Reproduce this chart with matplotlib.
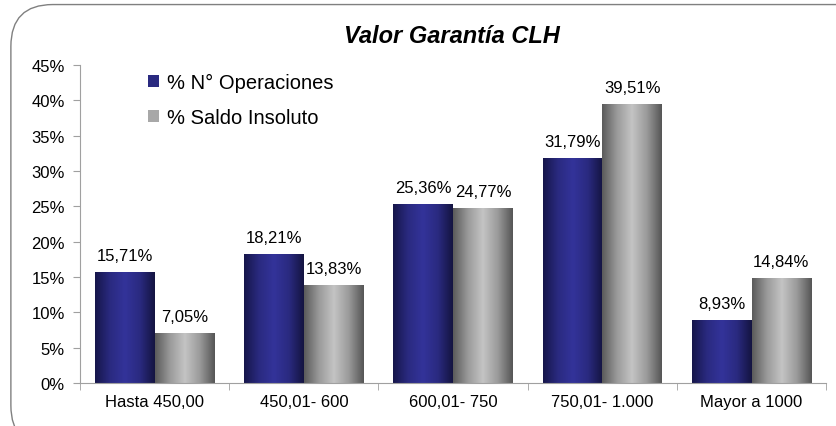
import matplotlib
matplotlib.use("Agg")
import matplotlib.pyplot as plt
from matplotlib.patches import FancyBboxPatch, Patch
from matplotlib.colors import LinearSegmentedColormap
import numpy as np

plt.rcParams['font.family'] = ['Liberation Sans', 'DejaVu Sans']

# data
categorias = ["Hasta 450,00", "450,01- 600", "600,01- 750", "750,01- 1.000", "Mayor a 1000"]
operaciones = [15.71, 18.21, 25.36, 31.79, 8.93]
saldo = [7.05, 13.83, 24.77, 39.51, 14.84]
series = ["% N° Operaciones", "% Saldo Insoluto"]
yticks = [0, 5, 10, 15, 20, 25, 30, 35, 40, 45]

blue_cmap = LinearSegmentedColormap.from_list(
    "b", ["#16164a", "#2a2a80", "#33339a", "#2a2a80", "#141440"])
gray_cmap = LinearSegmentedColormap.from_list(
    "g", ["#5a5a5a", "#9a9a9a", "#c4c4c4", "#9a9a9a", "#555555"])

fig = plt.figure(figsize=(8.37, 4.27), dpi=100)
fig.patch.set_facecolor("white")

# rounded frame
frame = FancyBboxPatch((0.013, -0.05), 1.05, 1.037, boxstyle="round,pad=0,rounding_size=0.05",
                       transform=fig.transFigure, facecolor="none", edgecolor="#808080",
                       linewidth=1.0, mutation_aspect=837 / 427)
fig.patches.append(frame)

ax = fig.add_axes([0.0956, 0.1007, 0.8914, 0.7447])
x = np.arange(len(categorias))
w = 0.4
grad = np.linspace(0, 1, 256).reshape(1, -1)


def gradient_bars(xs, vals, cmap):
    bars = ax.bar(xs, vals, w, facecolor="none", edgecolor="none")
    for b in bars:
        x0, y0 = b.get_x(), b.get_y()
        im = ax.imshow(grad, cmap=cmap, aspect="auto", interpolation="bicubic",
                       extent=[x0, x0 + b.get_width(), y0, y0 + b.get_height()], zorder=2)
        im.set_clip_path(b)
    return bars


gradient_bars(x - w / 2, operaciones, blue_cmap)
gradient_bars(x + w / 2, saldo, gray_cmap)

for xi, v in zip(x - w / 2, operaciones):
    ax.text(xi, v + 1.3, f"{v:.2f}%".replace(".", ","), ha="center", va="bottom", fontsize=12)
for xi, v in zip(x + w / 2, saldo):
    ax.text(xi, v + 1.3, f"{v:.2f}%".replace(".", ","), ha="center", va="bottom", fontsize=12)

ax.set_xlim(-0.5, len(categorias) - 0.5)
ax.set_ylim(0, 45)
ax.set_yticks(yticks)
ax.set_yticklabels([f"{t}%" for t in yticks], fontsize=12)
ax.set_xticks(x)
ax.set_xticklabels(categorias, fontsize=12)
ax.tick_params(axis="x", length=0, pad=8)
ax.set_xticks(np.arange(len(categorias) + 1) - 0.5, minor=True)
ax.tick_params(axis="x", which="minor", length=5, color="#a0a0a0", direction="out")
ax.tick_params(axis="y", length=5, color="#a0a0a0", direction="out", pad=6)
for s in ["top", "right"]:
    ax.spines[s].set_visible(False)
for s in ["left", "bottom"]:
    ax.spines[s].set_color("#a0a0a0")
ax.set_facecolor("none")

fig.text(0.54, 0.915, "Valor Garantía CLH", ha="center", va="center",
         fontsize=17, fontweight="bold", fontstyle="italic")

handles = [Patch(facecolor="#2a2a80", edgecolor="none"),
           Patch(facecolor="#a8a8a8", edgecolor="none")]
fig.legend(handles, series, loc="upper left", bbox_to_anchor=(0.155, 0.87),
           frameon=False, fontsize=14.5, handlelength=0.55, handleheight=0.55,
           handletextpad=0.4, labelspacing=0.8)

fig.savefig("out.png", dpi=100)
